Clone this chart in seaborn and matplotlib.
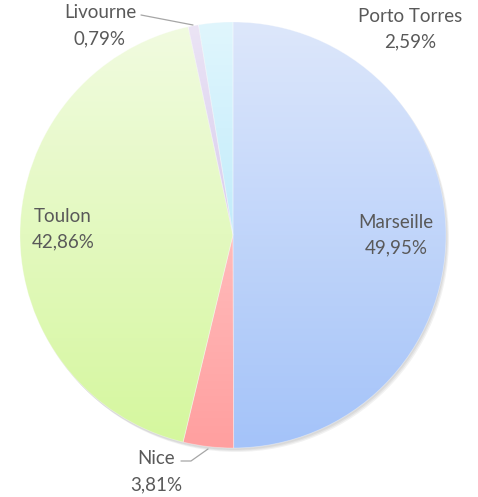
import numpy as np
import matplotlib
matplotlib.use("Agg")
import matplotlib.pyplot as plt
import matplotlib.colors as mcolors
import seaborn as sns

# données
ports = ['Marseille', 'Nice', 'Toulon', 'Livourne', 'Porto Torres']
parts = [49.95, 3.81, 42.86, 0.79, 2.59]
etiquettes = ['49,95%', '3,81%', '42,86%', '0,79%', '2,59%']

# dégradés (haut -> bas) par part
degrades = [('#dde7fb', '#a4c3f9'),
            ('#ffbcbc', '#ff9f9f'),
            ('#f1fbe0', '#d5f79e'),
            ('#ebe4f5', '#d9cdee'),
            ('#e0f6fd', '#c2ecfb')]

sns.set_theme(style='white')
plt.rcParams['font.family'] = ['Lato', 'DejaVu Sans']

fig = plt.figure(figsize=(4.78, 4.97), dpi=100)
ax = fig.add_axes([0, 0, 1, 1])

cx, cy, r = 233, 262, 213

# ombre légère, surtout en bas à droite
for k, a in enumerate([0.05, 0.05, 0.05]):
    ombre = plt.Circle((cx + 1 + k, cy - 2 - k), r, color='#000000', alpha=a,
                       lw=0, zorder=0)
    ax.add_patch(ombre)

wedges, _ = ax.pie(parts, center=(cx, cy), radius=r, startangle=90, counterclock=False,
                   colors=['none'] * len(parts),
                   wedgeprops=dict(edgecolor='none', linewidth=0), frame=True)
ax.set_xlim(0, 478)
ax.set_ylim(0, 497)
ax.set_aspect('equal')
ax.axis('off')

for w, (haut, bas) in zip(wedges, degrades):
    v = w.get_path().vertices
    y0, y1 = v[:, 1].min(), v[:, 1].max()
    x0, x1 = v[:, 0].min(), v[:, 0].max()
    c1 = np.array(mcolors.to_rgb(haut))
    c2 = np.array(mcolors.to_rgb(bas))
    t = np.linspace(0, 1, 256)[:, None]
    grad = (c1 * (1 - t) + c2 * t)[:, None, :]
    im = ax.imshow(grad, extent=(x0, x1, y0, y1), origin='upper', aspect='auto',
                   interpolation='bilinear', zorder=1)
    im.set_clip_path(w)
    w.set_zorder(2)
    w.set_facecolor('none')
    w.set_edgecolor((1, 1, 1, 0.35))
    w.set_linewidth(0.6)

gris = '#595959'
fs = 13.5

def lab(x, y, nom, pct, ha='center'):
    ax.text(x, 497 - y, nom, ha=ha, va='center', color=gris, fontsize=fs, zorder=5)
    ax.text(x, 497 - y - 26, pct, ha=ha, va='center', color=gris, fontsize=fs, zorder=5)

lab(396, 222, ports[0], etiquettes[0])
lab(63, 216, ports[2], etiquettes[2])
lab(410, 16, ports[4], etiquettes[4])
lab(100, 13, ports[3], etiquettes[3])
lab(156, 459, ports[1], etiquettes[1])

# lignes de rappel
ax.plot([141, 193], [497 - 15, 497 - 25], color='#a6a6a6', lw=0.9, zorder=4)
ax.plot([181, 191, 208], [497 - 461, 497 - 461, 497 - 449], color='#a6a6a6', lw=0.9, zorder=4)

fig.savefig('out.png', dpi=100)
